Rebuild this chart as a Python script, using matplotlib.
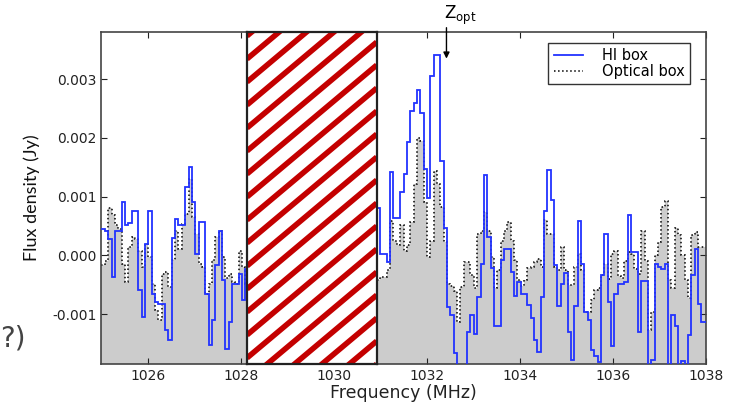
import numpy as np
import matplotlib
matplotlib.use('Agg')
import matplotlib.pyplot as plt

# spectral channels (MHz) and the masked band
chan_width = 0.072
left_start = 1025.0
right_start = 1030.92
mask_lo = 1028.13
mask_hi = 1030.92
z_opt = 1032.42

# flux per channel in mJy, below and above the masked band
hi_left = [0.45, 0.42, 0.27, -0.37, 0.42, 0.42, 0.9, 0.51, 0.55, 0.76, 0.76,
           -0.59, -1.05, 0.2, 0.76, -0.65, -0.79, -0.83, -0.83, -1.27, -1.44,
           0.3, 0.62, 0.51, 0.52, 1.16, 1.51, 0.9, 0.03, 0.56, 0.56, -0.65,
           -1.53, -1.1, -0.17, 0.41, -0.42, -1.6, -1.13, -0.48, -0.48, -0.31,
           -0.76, -0.24]
opt_left = [-0.17, -0.1, 0.81, 0.68, 0.51, 0.45, -0.14, -0.45, 0.14, 0.32,
            0.27, 0.08, -0.2, 0.2, -0.03, -0.48, -0.93, -1.1, -0.31, -0.29,
            -0.54, -0.08, 0.42, 0.1, 0.54, 0.71, 1.3, 0.65, 0.36, -0.14, -0.2,
            -0.65, -0.48, -0.08, 0.32, 0.42, -0.03, -0.39, -0.31, -0.45,
            -0.48, 0.08, -0.2, -0.48]
hi_right = [0.8, 0.03, 0.03, -0.11, 1.41, 0.63, 0.63, 1.07, 1.39, 1.92, 2.46,
            2.6, 2.81, 2.42, 1.47, 0.97, 3.05, 3.41, 3.41, 1.61, 0.46, -0.88,
            -1.02, -1.66, -2.2, -2.2, -2.2, -1.3, -1.02, -1.33, -0.71, -0.14,
            1.36, 0.31, -0.22, -1.21, -1.21, -0.08, 0.11, 0.11, -0.28, -0.7,
            -0.45, -0.66, -0.66, -0.85, -1.07, -1.44, -1.64, -0.71, 0.76,
            1.45, 0.94, -0.17, -0.86, -0.48, -0.3, -1.3, -1.78, -0.87, 0.59,
            -0.14, -0.97, -1.1, -1.61, -1.72, -1.81, -0.34, 0.37, -0.79,
            -1.55, -0.65, -0.48, -0.48, -0.45, 0.68, 0.06, 0.06, -1.3, -0.44,
            -0.44, -2.0, -1.78, -0.14, -0.2, -0.23, -0.14, -2.0, -1.02, -1.21,
            -2.0, -1.8, -2.0, -1.35, -0.34, 0.11, -0.82, -1.13, -1.13]
opt_right = [-0.42, -0.37, -0.37, -0.25, 0.59, 0.25, 0.17, 0.51, 0.08, 0.17,
             0.56, 1.21, 2.0, 1.95, 0.9, -0.03, 0.25, 1.44, 1.21, 0.82, 0.22,
             -0.48, -0.52, -0.6, -1.13, -0.54, -0.11, -0.11, -0.34, -0.56,
             0.37, 0.42, 0.73, 0.42, -0.03, -0.56, -0.25, 0.25, 0.42, 0.56,
             0.25, -0.08, -0.42, -0.52, -0.42, -0.22, -0.2, -0.11, -0.06, -0.2,
             0.6, 0.37, 0.37, -0.2, -0.25, 0.14, -0.25, -0.51, -0.5, -0.2,
             0.03, -0.25, -0.97, -0.97, -0.76, -0.59, -0.55, -0.34, -0.15,
             -0.4, 0.03, 0.08, -0.35, -0.38, -0.1, 0.05, 0.03, -0.23, -0.31,
             0.42, -0.1, -1.27, -0.97, 0.0, 0.23, 0.83, 0.93, -0.42, -0.55,
             0.46, 0.34, 0.0, -0.42, -0.73, 0.34, 0.4, 0.14, 0.14, 0.14]

xlim = (1025, 1038)
ylim = (-0.00185, 0.0038)

fig = plt.figure(figsize=(7.3, 4.05), dpi=100)
ax = fig.add_axes([0.139, 0.101, 0.828, 0.820])

blue = '#2233ff'
for i, (start, hi, opt) in enumerate([(left_start, hi_left, opt_left),
                                      (right_start, hi_right, opt_right)]):
    edges = start + chan_width * np.arange(len(hi) + 1)
    opt = np.array(opt) * 1e-3
    hi = np.array(hi) * 1e-3
    ax.stairs(opt, edges, baseline=-0.01, fill=True, color='#cccccc',
              lw=0, zorder=1)
    ax.stairs(opt, edges, baseline=None, color='k', ls=':', lw=1.1, zorder=2,
              label='Optical box' if i == 0 else None)
    ax.stairs(hi, edges, baseline=None, color=blue, lw=1.3, zorder=3,
              label='HI box' if i == 0 else None)

ax.set_xlim(*xlim)
ax.set_ylim(*ylim)
ax.set_xticks([1026, 1028, 1030, 1032, 1034, 1036, 1038])
ax.set_yticks([-0.001, 0.0, 0.001, 0.002, 0.003])
ax.yaxis.set_major_formatter(matplotlib.ticker.FormatStrFormatter('%.3f'))
ax.tick_params(direction='in', top=True, right=True, length=4,
               labelsize=10, colors='#222222')
for s in ax.spines.values():
    s.set_color('#444444')
    s.set_linewidth(1.2)

ax.set_xlabel('Frequency (MHz)', fontsize=12.5, color='#222222', labelpad=1)
ax.set_ylabel('Flux density (Jy)', family='Lato', fontsize=13,
              color='#111111', labelpad=9)

# masked band: white box with red diagonal stripes
ins = ax.inset_axes([mask_lo, ylim[0], mask_hi - mask_lo, ylim[1] - ylim[0]],
                    transform=ax.transData, zorder=5)
w_px = (mask_hi - mask_lo) / (xlim[1] - xlim[0]) * 0.828 * 730
h_px = 0.820 * 405
ins.set_xlim(0, w_px)
ins.set_ylim(0, h_px)
ins.set_xticks([])
ins.set_yticks([])
for s in ins.spines.values():
    s.set_color('#222222')
    s.set_linewidth(1.6)
slope = np.tan(np.radians(40))
for c in np.arange(-w_px * slope, h_px + 10, 23):
    ins.plot([0, w_px], [c, c + w_px * slope], color='#c40000', lw=4,
             solid_capstyle='butt')

# handles sorted so HI box comes first
h, l = ax.get_legend_handles_labels()
order = [l.index('HI box'), l.index('Optical box')]
ax.legend([h[k] for k in order], [l[k] for k in order], loc='upper right',
          bbox_to_anchor=(0.985, 0.99), fancybox=False, edgecolor='#333333',
          fontsize=10.5, handlelength=2.0, handletextpad=1.3, borderpad=0.35,
          labelspacing=0.1, framealpha=1)

ax.annotate('', xy=(z_opt, 0.0033), xytext=(z_opt, 0.00392),
            arrowprops=dict(arrowstyle='-|>', color='k', lw=1,
                            mutation_scale=9),
            annotation_clip=False)
ax.text(z_opt + 0.3, 0.00428, r'$\mathrm{Z_{opt}}$', ha='center',
        va='top', fontsize=12, clip_on=False)

fig.text(0.0, 0.145, '?)', fontsize=20, color='#444444', ha='left',
         va='baseline')

fig.savefig('out.png', dpi=100)
